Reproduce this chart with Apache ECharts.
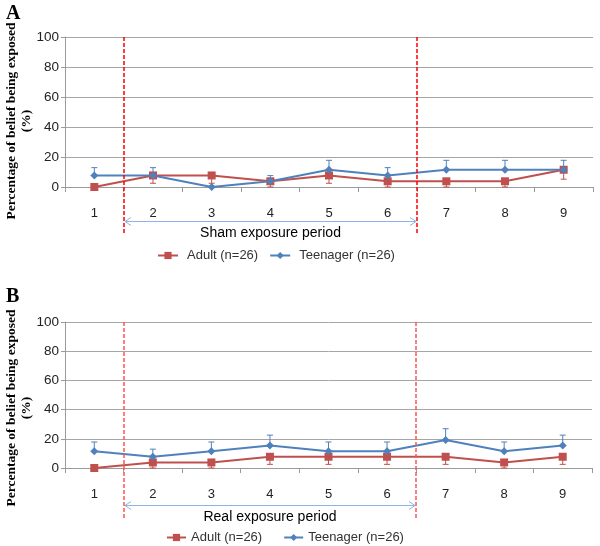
<!DOCTYPE html>
<html>
<head>
<meta charset="utf-8">
<script src="https://cdn.jsdelivr.net/npm/echarts@6/dist/echarts.min.js"></script>
<style>
  html, body { margin: 0; padding: 0; background: #fff; }
  #chart { width: 600px; height: 546px; }
</style>
</head>
<body>
<div id="chart"></div>
<script>
// sessions on the x axis
var sessions = ['1', '2', '3', '4', '5', '6', '7', '8', '9'];
var yTicks = [0, 20, 40, 60, 80, 100];

// panel A - sham exposure
var adultA = [0, 7.7, 7.7, 3.8, 7.7, 3.8, 3.8, 3.8, 11.5];
var adultErrA = [0, 5.2, 5.2, 3.8, 5.2, 3.8, 3.8, 3.8, 6.3];
var teenA = [7.7, 7.7, 0, 3.8, 11.5, 7.7, 11.5, 11.5, 11.5];
var teenErrA = [5.2, 5.2, 0, 3.8, 6.3, 5.2, 6.3, 6.3, 6.3];

// panel B - real exposure
var adultB = [0, 3.8, 3.8, 7.7, 7.7, 7.7, 7.7, 3.8, 7.7];
var adultErrB = [0, 3.8, 3.8, 5.2, 5.2, 5.2, 5.2, 3.8, 5.2];
var teenB = [11.5, 7.7, 11.5, 15.4, 11.5, 11.5, 19.2, 11.5, 15.4];
var teenErrB = [6.3, 5.2, 6.3, 7.1, 6.3, 6.3, 7.7, 6.3, 7.1];

// exposure period goes from after session 1 to after session 6
var periodA = [0, 5];
var periodB = [0, 5];

var adultName = 'Adult (n=26)';
var teenName = 'Teenager (n=26)';
var RED = '#C0504D';
var BLUE = '#4F81BD';
var SANS = '"Liberation Sans", Arial, sans-serif';

var chart = echarts.init(document.getElementById('chart'));

// error bars: dir = -1 draws downward, +1 upward
function errorSeries(idx, vals, errs, dir, color) {
    var data = [];
    for (var i = 0; i < vals.length; i++) {
        data.push([i, vals[i], errs[i]]);
    }
    return {
        type: 'custom',
        xAxisIndex: idx,
        yAxisIndex: idx,
        z: 1,
        silent: true,
        data: data,
        renderItem: function (params, api) {
            if (api.value(2) === 0) return null;
            var p0 = api.coord([api.value(0), api.value(1)]);
            var p1 = api.coord([api.value(0), api.value(1) + dir * api.value(2)]);
            return {
                type: 'group',
                children: [
                    { type: 'line', shape: { x1: p0[0], y1: p0[1], x2: p1[0], y2: p1[1] },
                      style: { stroke: color, lineWidth: 1 } },
                    { type: 'line', shape: { x1: p1[0] - 3, y1: p1[1], x2: p1[0] + 3, y2: p1[1] },
                      style: { stroke: color, lineWidth: 1 } }
                ]
            };
        }
    };
}

// dashed period lines + double arrow + caption
function periodSeries(idx, period, caption, dashColor, lineDrop, arrowDrop, textDrop) {
    return {
        type: 'custom',
        xAxisIndex: idx,
        yAxisIndex: idx,
        silent: true,
        z: 5,
        data: [period],
        renderItem: function (params, api) {
            var half = api.size([1, 0])[0] / 2;
            var xa = Math.round(api.coord([api.value(0), 0])[0] + half);
            var xb = Math.round(api.coord([api.value(1), 0])[0] + half);
            var top = api.coord([0, 100])[1];
            var base = api.coord([0, 0])[1];
            var ay = Math.round(base + arrowDrop) + 0.5;
            var dash = { stroke: dashColor, lineWidth: 1.5, lineDash: [4, 2] };
            var arrowStyle = { stroke: '#8DB4E2', lineWidth: 1, fill: null };
            return {
                type: 'group',
                children: [
                    { type: 'line', shape: { x1: xa, y1: top, x2: xa, y2: base + lineDrop }, style: dash },
                    { type: 'line', shape: { x1: xb, y1: top, x2: xb, y2: base + lineDrop }, style: dash },
                    { type: 'line', shape: { x1: xa + 1, y1: ay, x2: xb - 1, y2: ay }, style: arrowStyle },
                    { type: 'polyline', shape: { points: [[xa + 7, ay - 4], [xa + 1, ay], [xa + 7, ay + 4]] }, style: arrowStyle },
                    { type: 'polyline', shape: { points: [[xb - 7, ay - 4], [xb - 1, ay], [xb - 7, ay + 4]] }, style: arrowStyle },
                    { type: 'text', x: (xa + xb) / 2, y: base + textDrop,
                      style: { text: caption, fill: '#000', font: '14px ' + SANS,
                               align: 'center', verticalAlign: 'middle' } }
                ]
            };
        }
    };
}

function lineSeries(idx, name, vals, color, symbol, size) {
    return {
        name: name,
        type: 'line',
        xAxisIndex: idx,
        yAxisIndex: idx,
        data: vals,
        symbol: symbol,
        symbolSize: size,
        z: 3,
        lineStyle: { color: color, width: 2 },
        itemStyle: { color: color },
        emphasis: { disabled: true }
    };
}

function xAxis(idx) {
    return {
        type: 'category',
        gridIndex: idx,
        data: sessions,
        boundaryGap: true,
        axisLine: { lineStyle: { color: '#9a9a9a' } },
        axisTick: { show: true, length: 5, lineStyle: { color: '#9a9a9a' } },
        axisLabel: { margin: 20, color: '#222', fontSize: 13, fontFamily: SANS }
    };
}

function yAxis(idx) {
    return {
        type: 'value',
        gridIndex: idx,
        min: yTicks[0],
        max: yTicks[yTicks.length - 1],
        interval: 20,
        axisLine: { show: true, lineStyle: { color: '#9a9a9a' } },
        axisTick: { show: true, length: 4, lineStyle: { color: '#9a9a9a' } },
        axisLabel: { margin: 6, color: '#222', fontSize: 13.5, fontFamily: SANS },
        splitLine: { lineStyle: { color: '#a6a6a6' } }
    };
}

var titleFont = 'bold 13.5px "Liberation Serif", "Times New Roman", serif';
var yTitle = 'Percentage of belief being exposed\n(%)';

var option = {
    animation: false,
    grid: [
        { left: 65, right: 7, top: 37, height: 150 },
        { left: 65, right: 8, top: 322, height: 146 }
    ],
    xAxis: [xAxis(0), xAxis(1)],
    yAxis: [yAxis(0), yAxis(1)],
    legend: [
        { left: 157, top: 249, padding: 0, itemWidth: 20, itemHeight: 9, itemGap: 11,
          textStyle: { fontSize: 13, color: '#333', fontFamily: SANS, padding: [0, 0, 0, 4] },
          data: [adultName, teenName] },
        { left: 166, top: 531, padding: 0, itemWidth: 19, itemHeight: 9, itemGap: 21,
          textStyle: { fontSize: 13, color: '#333', fontFamily: SANS },
          data: [adultName, teenName] }
    ],
    graphic: [
        { type: 'text', x: 6, y: 4, style: { text: 'A', font: 'bold 20px "Liberation Serif", serif', fill: '#000' } },
        { type: 'text', x: 6, y: 287, style: { text: 'B', font: 'bold 20px "Liberation Serif", serif', fill: '#000' } },
        { type: 'text', x: 19, y: 121, rotation: Math.PI / 2,
          style: { text: yTitle, font: titleFont, fill: '#000', align: 'center', verticalAlign: 'middle', lineHeight: 15 } },
        { type: 'text', x: 19, y: 408, rotation: Math.PI / 2,
          style: { text: yTitle, font: titleFont, fill: '#000', align: 'center', verticalAlign: 'middle', lineHeight: 15 } }
    ],
    series: [
        errorSeries(0, adultA, adultErrA, -1, RED),
        errorSeries(0, teenA, teenErrA, 1, BLUE),
        lineSeries(0, adultName, adultA, RED, 'rect', 8),
        lineSeries(0, teenName, teenA, BLUE, 'diamond', 8),
        periodSeries(0, periodA, 'Sham exposure period', '#FF0000', 48, 34, 46),
        errorSeries(1, adultB, adultErrB, -1, RED),
        errorSeries(1, teenB, teenErrB, 1, BLUE),
        lineSeries(1, adultName, adultB, RED, 'rect', 8),
        lineSeries(1, teenName, teenB, BLUE, 'diamond', 8),
        periodSeries(1, periodB, 'Real exposure period', '#FF5555', 52, 37, 49)
    ]
};

chart.setOption(option);
</script>
</body>
</html>
